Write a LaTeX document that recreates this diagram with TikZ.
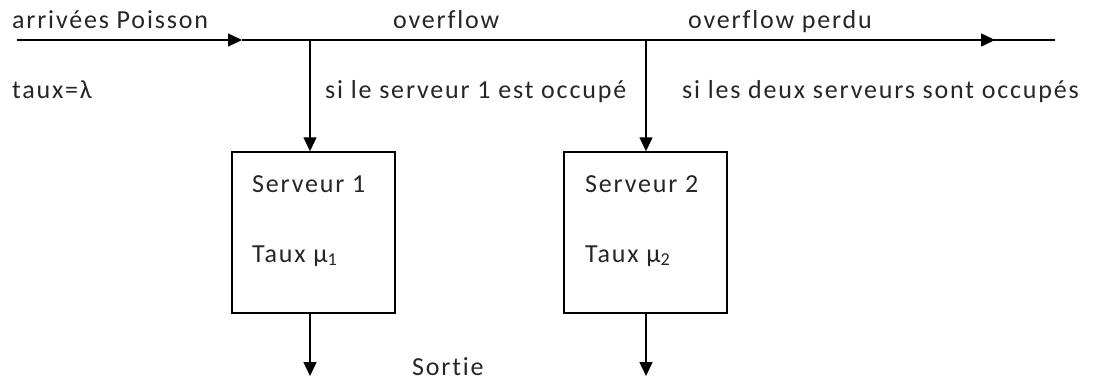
\documentclass[tikz,border=0pt]{standalone}
\usepackage{fontspec}
\setmainfont{Carlito}
\newfontfamily\wide[LetterSpace=7,Ligatures={NoCommon,NoRare,NoDiscretionary}]{Carlito}
\usetikzlibrary{arrows.meta}
\begin{document}
\begin{tikzpicture}[x=1pt,y=-1pt,
  lbl/.style={anchor=base west,inner sep=0pt,font=\wide\fontsize{26}{30}\selectfont,text=black!85},
  box/.style={draw,line width=1.5pt,minimum width=163pt,minimum height=161pt,inner sep=0pt},
  line/.style={line width=1.5pt},
  arr/.style={line width=1.5pt,-{Triangle[length=14pt,width=13pt]}}]
\useasboundingbox (0,0) rectangle (1097,381);
% main line
\coordinate (start) at (17,40);
\coordinate (mid1) at (242,40);
\coordinate (j1) at (310,40);
\coordinate (j2) at (646,40);
\coordinate (mid2) at (995,40);
\coordinate (end) at (1055,40);
\draw[arr] (start) -- (mid1);
\draw[line] (mid1) -- (j1) -- (j2) -- (mid2);
\draw[arr] (j2) -- (mid2);
\draw[line] (mid2) -- (end);
% boxes
\node[box] (s1) at (313.5,232.5) {};
\node[box] (s2) at (645.5,232.5) {};
\draw[arr] (j1) -- (j1 |- s1.north);
\draw[arr] (j2) -- (j2 |- s2.north);
\coordinate (o1) at (310,376);
\coordinate (o2) at (646,376);
\draw[arr] (s1.south -| o1) -- (o1);
\draw[arr] (s2.south -| o2) -- (o2);
% labels
\node[lbl] (t1) at (12,28) {arrivées Poisson};
\node[lbl] (t2) at (393,28) {overflow};
\node[lbl] (t3) at (688,28) {overflow perdu};
\node[lbl] (t4) at (12,98) {taux=λ};
\node[lbl] (t5) at (325,98) {si le serveur 1 est occupé};
\node[lbl] (t6) at (682,98) {si les deux serveurs sont occupés};
\node[lbl] (t7) at (252,192) {Serveur 1};
\node[lbl] (t8) at (252,262) {Taux μ\textsubscript{1}};
\node[lbl] (t9) at (585,192) {Serveur 2};
\node[lbl] (t10) at (585,262) {Taux μ\textsubscript{2}};
\node[lbl] (t11) at (412,375) {Sortie};
\end{tikzpicture}
\end{document}
